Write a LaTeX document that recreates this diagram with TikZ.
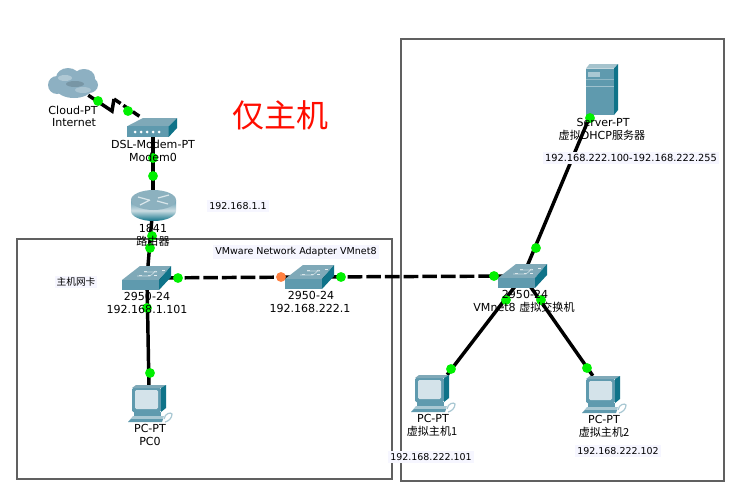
\documentclass[tikz,border=0pt]{standalone}
\usepackage{fontspec}
\setmainfont{DejaVu Sans}
\newfontfamily\cjk{Noto Sans CJK SC}
\definecolor{swtop}{HTML}{7FA9B8}
\definecolor{swfront}{HTML}{5F9AAE}
\definecolor{swside}{HTML}{0F7389}
\definecolor{lightpart}{HTML}{A9C8D3}
\definecolor{screenc}{HTML}{D4E3EA}
\definecolor{cloudc}{HTML}{8DB0C2}
\definecolor{linkgreen}{HTML}{00F000}
\definecolor{linkorange}{HTML}{FF8040}
\definecolor{framegray}{HTML}{606060}
\definecolor{labelbg}{HTML}{F6F6FF}
\tikzset{
  x=0.75pt,y=-0.75pt,
  frame/.style={draw=framegray,line width=.85pt},
  link/.style={draw=black,line width=2.6pt},
  dashlink/.style={link,dash pattern=on 11pt off 3pt},
  dot/.style={circle,fill=linkgreen,inner sep=0pt,minimum size=7.4pt},
  dotor/.style={dot,fill=linkorange},
  lab/.style={font=\fontsize{8.3pt}{9pt}\selectfont,inner sep=0pt,text=black},
  bglab/.style={lab,fill=labelbg,inner xsep=1.5pt,inner ysep=1.5pt},
  anchorpt/.style={inner sep=0pt,minimum size=0pt},
  pics/switchicon/.style={code={
    \fill[swtop] (0,14)--(18,0)--(49,0)--(37,14)--cycle;
    \fill[swfront] (0,14)--(37,14)--(37,24)--(0,24)--cycle;
    \fill[swside] (37,14)--(49,0)--(49,11)--(37,24)--cycle;
    \foreach \a/\b in {17/9,26/9,22/5,32/5,32/9,40/4}{\fill[white!80!swtop] (\a,\b) rectangle ++(3,1.4);}
    \draw[white!55!swtop,line width=.5pt] (15,10)--(28,10)--(34,5) (22,6)--(35,6);
  }},
  pics/modemicon/.style={code={
    \fill[swtop] (0,8.3)--(16,0)--(50,0)--(41.7,8.3)--cycle;
    \fill[swfront] (0,8.3) rectangle (41.7,19);
    \fill[swside] (41.7,8.3)--(50,0)--(50,10)--(41.7,19)--cycle;
    \foreach \a in {8,14,20,26,32}{\fill[white] (\a,14) circle (1.5);}
  }},
  pics/routericon/.style={code={
    \shade[left color=swfront,right color=swside,middle color=white!60!swtop,shading angle=0] (0,10) -- (0,21) arc[start angle=180,end angle=0,x radius=22.5,y radius=10] -- (45,10) -- cycle;
    \fill[swtop!90!white] (22.5,10) ellipse[x radius=22.5,y radius=10];
    \draw[white!70!swtop,line width=.9pt] (7,7)--(18,10) (27,8)--(38,5) (9,15)--(19,10) (26,11)--(37,14);
  }},
  pics/servericon/.style={code={
    \fill[swtop!70!white] (0,4.5)--(3.5,0)--(32,0)--(28,4.5)--cycle;
    \fill[swfront] (0,4.5) rectangle (28,51);
    \fill[swside] (28,4.5)--(32,0)--(32,46)--(28,51)--cycle;
    \fill[lightpart] (2,7.5) rectangle (14,13);
    \draw[white!40!swfront,line width=.6pt] (0,22)--(28,22);
    \draw[white!30!swfront,line width=.6pt] (0,15)--(28,15);
  }},
  pics/pcicon/.style={code={
    \fill[swfront,rounded corners=1pt] (4,3) rectangle (33,27);
    \fill[swtop] (4,3)--(8,0)--(38,0)--(33,3)--cycle;
    \fill[swside] (33,3)--(38,0)--(38,23)--(33,27)--cycle;
    \fill[screenc,rounded corners=1pt] (7,5) rectangle (30,24);
    \fill[swfront] (6,27) rectangle (33,31);
    \fill[lightpart] (5,31)--(36,31)--(34,36)--(0,37)--cycle;
    \fill[swfront] (3,34)--(35,34)--(34,37)--(0,37)--cycle;
    \draw[lightpart,line width=.9pt] (36,34) .. controls (37,28) and (43,27) .. (44,29) .. controls (44,33) and (41,36) .. (37,37);
  }},
  pics/cloudicon/.style={code={
    \fill[cloudc] (9,17) ellipse[x radius=9,y radius=9];
    \fill[cloudc] (20,10) ellipse[x radius=12,y radius=10];
    \fill[cloudc] (36,10) ellipse[x radius=11,y radius=9];
    \fill[cloudc] (26,20) ellipse[x radius=18,y radius=10];
    \fill[cloudc] (41,17) ellipse[x radius=9,y radius=8];
    \fill[cloudc!70!white] (17,10) ellipse[x radius=7,y radius=3];
    \fill[cloudc!75!white] (35,22) ellipse[x radius=8,y radius=3];
    \fill[cloudc!85!black] (27,16) ellipse[x radius=9,y radius=3];
  }},
}
\begin{document}
\begin{tikzpicture}
\useasboundingbox (0,0) rectangle (738,496);
\fill[white] (0,0) rectangle (738,496);
% frames
\draw[frame] (17,239) rectangle (392,479);
\draw[frame] (401,39) rectangle (724,481);
% device anchors
\node[anchorpt] (cloud) at (88,95) {};
\node[anchorpt] (modem) at (142,118) {};
\node[anchorpt] (modemb) at (153,128) {};
\node[anchorpt] (router) at (153,205) {};
\node[anchorpt] (swa) at (147,278) {};
\node[anchorpt] (swb) at (310,277) {};
\node[anchorpt] (swc) at (523,276) {};
\node[anchorpt] (server) at (590,116) {};
\node[anchorpt] (pca) at (149,390) {};
\node[anchorpt] (pcb) at (447,375) {};
\node[anchorpt] (pcc) at (593,376) {};
\coordinate (zigA) at (112,111);
\coordinate (zigB) at (114,99);
% connectors
\draw[link] (cloud) -- (zigA) -- (zigB);
\draw[link,dash pattern=on 6pt off 2.5pt] (zigB) -- (modem);
\draw[link] (modemb) -- (router);
\draw[link] (router) -- (swa);
\draw[link] (swa) -- (pca);
\draw[dashlink] (swa) -- (swb);
\draw[dashlink] (swb) -- (swc);
\draw[link] (server) -- (swc);
\draw[link] (swc) -- (pcb);
\draw[link] (swc) -- (pcc);
% icons
\pic at (48,68) {cloudicon};
\pic at (127,118) {modemicon};
\pic at (131,190) {routericon};
\pic at (122,266) {switchicon};
\pic at (285,265) {switchicon};
\pic at (498,264) {switchicon};
\pic at (586,64) {servericon};
\pic at (128,385) {pcicon};
\pic at (411,375) {pcicon};
\pic at (582,376) {pcicon};
% link lights
\foreach \n/\p in {d1/{98,101},d2/{128,111},d3/{153,158},d4/{153,176},d5/{152,236},d6/{150,248},d7/{147,308},d8/{150,373},d9/{178,278},d11/{341,277},d12/{494,276},d13/{590,118},d14/{536,248},d15/{506,300},d16/{451,369},d17/{541,300},d18/{587,368}}
  \node[dot] (\n) at (\p) {};
\node[dotor] (d10) at (281,277) {};
% labels
\node[lab] (t1) at (73,110) {Cloud-PT};
\node[lab] (t2) at (74,123) {Internet};
\node[lab] (t3) at (153,144) {DSL-Modem-PT};
\node[lab] (t4) at (153,157) {Modem0};
\node[lab] (t5) at (153,228) {1841};
\node[lab] (t6) at (153,241) {\cjk 路由器};
\node[bglab,font=\fontsize{7.3pt}{9pt}\cjk] (t7) at (76,282) {主机网卡};
\node[lab] (t8) at (147,296) {2950-24};
\node[lab] (t9) at (147,309) {192.168.1.101};
\node[lab] (t10) at (311,295) {2950-24};
\node[lab] (t11) at (310,308) {192.168.222.1};
\node[bglab,font=\fontsize{7.1pt}{9pt}\selectfont] (t12) at (238,206) {192.168.1.1};
\node[bglab,font=\fontsize{7.15pt}{9pt}\selectfont] (t13) at (296,252) {VMware Network Adapter VMnet8};
\node[lab] (t14) at (603,122) {Server-PT};
\node[lab] (t15) at (602,135) {{\cjk 虚拟}DHCP{\cjk 服务器}};
\node[bglab,font=\fontsize{7.35pt}{9pt}\selectfont] (t16) at (631,158) {192.168.222.100-192.168.222.255};
\node[lab] (t17) at (525,294) {2950-24};
\node[lab] (t18) at (524,307) {VMnet8 {\cjk 虚拟交换机}};
\node[lab] (t19) at (150,428) {PC-PT};
\node[lab] (t20) at (150,441) {PC0};
\node[lab] (t21) at (433,418) {PC-PT};
\node[lab] (t22) at (432,431) {\cjk 虚拟主机1};
\node[bglab,font=\fontsize{7.1pt}{9pt}\selectfont] (t23) at (431,457) {192.168.222.101};
\node[lab] (t24) at (604,419) {PC-PT};
\node[lab] (t25) at (604,432) {\cjk 虚拟主机2};
\node[bglab,font=\fontsize{7.1pt}{9pt}\selectfont] (t26) at (618,451) {192.168.222.102};
\node[inner sep=0pt,text=red!90!orange,font=\fontsize{24pt}{28pt}\cjk] (title) at (280,115) {仅主机};
\end{tikzpicture}
\end{document}
